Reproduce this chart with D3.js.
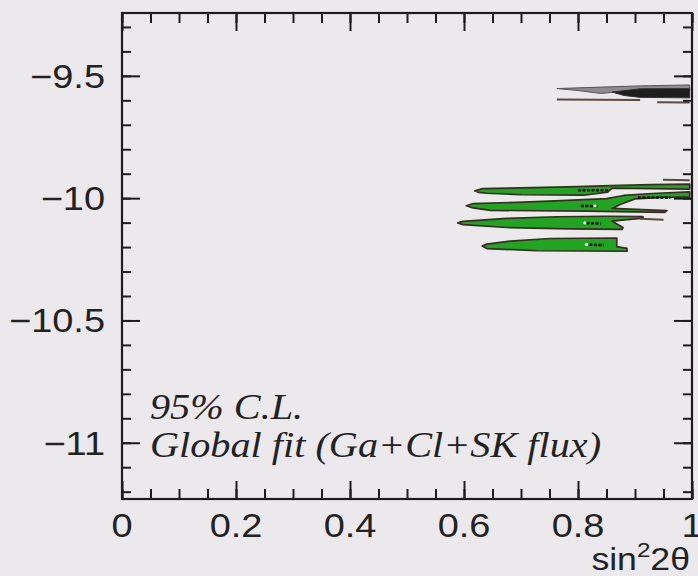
<!DOCTYPE html>
<html>
<head>
<meta charset="utf-8">
<script src="https://cdn.jsdelivr.net/npm/d3@7"></script>
<style>
  html, body { margin: 0; padding: 0; background: #ebe9ec; }
  svg { display: block; }
</style>
</head>
<body>
<svg id="chart" width="698" height="576"></svg>
<script>
// Axis ranges: x = sin^2 2θ, y = log10(Δm^2 / eV^2)
const xDomain = [0, 1];
const yDomain = [-11.23, -9.243];

const xMajorTicks = [0, 0.2, 0.4, 0.6, 0.8, 1];
const xTickLabels = ["0", "0.2", "0.4", "0.6", "0.8", "1"];
const yMajorTicks = [-9.5, -10, -10.5, -11];
const yTickLabels = ["\u22129.5", "\u221210", "\u221210.5", "\u221211"];

// Allowed islands at 95% C.L. (upper edge left→right, then lower edge right→left)
const islandA = [[0.619,-9.970],[0.633,-9.961],[0.72,-9.957],[0.80,-9.953],[0.856,-9.949],[0.93,-9.945],[0.996,-9.943],
                 [0.996,-9.963],[0.93,-9.961],[0.86,-9.959],[0.852,-9.975],[0.81,-9.988],[0.70,-9.986],[0.64,-9.980],[0.625,-9.976]];
const islandB = [[0.604,-10.031],[0.616,-10.022],[0.693,-10.017],[0.781,-10.009],[0.85,-10.002],[0.88,-9.989],[0.93,-9.981],[0.996,-9.974],
                 [0.996,-9.995],[0.94,-9.998],[0.90,-10.003],[0.875,-10.025],[0.86,-10.042],[0.956,-10.051],[0.952,-10.058],[0.816,-10.053],[0.646,-10.050],[0.616,-10.040]];
const islandC = [[0.589,-10.101],[0.598,-10.095],[0.675,-10.083],[0.763,-10.076],[0.85,-10.074],[0.914,-10.075],[0.914,-10.082],
                 [0.86,-10.094],[0.879,-10.120],[0.877,-10.128],[0.786,-10.126],[0.675,-10.120],[0.598,-10.108]];
const islandD = [[0.632,-10.196],[0.64,-10.188],[0.681,-10.176],[0.751,-10.165],[0.868,-10.163],[0.868,-10.198],[0.886,-10.205],
                 [0.886,-10.217],[0.728,-10.215],[0.640,-10.206]];

// Upper solution near Δm^2 ~ 10^-9.55 (grey band and dark core)
const greyBand = [[0.763,-9.552],[0.84,-9.546],[0.909,-9.541],[0.996,-9.537],[0.996,-9.556],[0.909,-9.556],[0.84,-9.572],[0.80,-9.560]];
const darkCore = [[0.86,-9.566],[0.909,-9.553],[0.996,-9.552],[0.996,-9.590],[0.909,-9.588],[0.88,-9.580]];

// Thin contour fragments and inner (best-fit region) dashes
const thinLines = [
  [[0.763,-9.597],[0.909,-9.599]],
  [[0.939,-9.608],[0.996,-9.609]],
  [[0.949,-9.925],[0.996,-9.927]],
  [[0.909,-10.084],[0.95,-10.088]]
];
const coreDashes = [
  [[0.80,-9.968],[0.855,-9.968]],
  [[0.905,-9.997],[0.962,-9.998]],
  [[0.805,-10.032],[0.835,-10.032]],
  [[0.815,-10.102],[0.84,-10.104]],
  [[0.82,-10.190],[0.845,-10.192]]
];
const bestFits = [[0.83,-10.031],[0.812,-10.101],[0.815,-10.189]];

const W = 698, H = 576;
const mLeft = 122, mRight = 692, mTop = 13, mBottom = 499;
const stretch = 1.15;   // horizontal stretch of the lettering

const svg = d3.select("#chart");
const x = d3.scaleLinear().domain(xDomain).range([mLeft, mRight]);
const y = d3.scaleLinear().domain(yDomain).range([mBottom, mTop]);

svg.append("defs").append("clipPath").attr("id", "plotclip")
  .append("rect").attr("x", mLeft).attr("y", mTop).attr("width", mRight - mLeft).attr("height", mBottom - mTop);

const plot = svg.append("g").attr("clip-path", "url(#plotclip)");
const poly = d3.line().x(d => x(d[0])).y(d => y(d[1])).curve(d3.curveLinearClosed);
const seg = d3.line().x(d => x(d[0])).y(d => y(d[1]));

plot.append("path").attr("d", poly(greyBand)).attr("fill", "#8d8b8d").attr("stroke", "#555").attr("stroke-width", 1);
plot.append("path").attr("d", poly(darkCore)).attr("fill", "#1e1e1e").attr("stroke", "#333").attr("stroke-width", 1);

[islandA, islandB, islandC, islandD].forEach(p => {
  plot.append("path").attr("d", poly(p))
    .attr("fill", "#20a520").attr("stroke", "#3b2a26").attr("stroke-width", 1.7)
    .attr("stroke-linejoin", "round");
});

thinLines.forEach(l => {
  plot.append("path").attr("d", seg(l)).attr("fill", "none")
    .attr("stroke", "#5a4a40").attr("stroke-width", 2);
});
coreDashes.forEach(l => {
  plot.append("path").attr("d", seg(l)).attr("fill", "none")
    .attr("stroke", "#111").attr("stroke-width", 2.5).attr("stroke-dasharray", "3,1.5");
});
plot.selectAll("circle.bf").data(bestFits).join("circle")
  .attr("cx", d => x(d[0])).attr("cy", d => y(d[1])).attr("r", 1.6).attr("fill", "#e8f5e0");

// Frame and ticks on all four sides (pointing inward)
const axisColor = "#1c1c1c";
const xMinor = d3.range(0, 1.0001, 0.05).map(v => +v.toFixed(2));
const yMinor = d3.range(-11.2, -9.2499, 0.1).map(v => +v.toFixed(1));

function drawAxis(gen, transform, values, size) {
  const g = svg.append("g").attr("transform", transform)
    .call(gen.tickValues(values).tickSize(size).tickSizeOuter(0).tickFormat(""));
  g.select(".domain").remove();
  g.selectAll(".tick line").attr("stroke", axisColor).attr("stroke-width", 2);
  return g;
}
drawAxis(d3.axisBottom(x), `translate(0,${mBottom})`, xMinor, -10);
drawAxis(d3.axisBottom(x), `translate(0,${mBottom})`, xMajorTicks, -18);
drawAxis(d3.axisTop(x), `translate(0,${mTop})`, xMinor, -10);
drawAxis(d3.axisTop(x), `translate(0,${mTop})`, xMajorTicks, -18);
drawAxis(d3.axisLeft(y), `translate(${mLeft},0)`, yMinor, -9);
drawAxis(d3.axisLeft(y), `translate(${mLeft},0)`, yMajorTicks, -18);
drawAxis(d3.axisRight(y), `translate(${mRight},0)`, yMinor, -9);
drawAxis(d3.axisRight(y), `translate(${mRight},0)`, yMajorTicks, -18);

svg.append("rect").attr("x", mLeft).attr("y", mTop).attr("width", mRight - mLeft).attr("height", mBottom - mTop)
  .attr("fill", "none").attr("stroke", axisColor).attr("stroke-width", 2.2);

// Tick labels
const labelFont = "'Liberation Sans', Arial, Helvetica, sans-serif";
svg.append("g").selectAll("text").data(xMajorTicks).join("text")
  .attr("transform", d => `translate(${x(d)},537) scale(${stretch},1)`)
  .attr("text-anchor", "middle").attr("font-family", labelFont).attr("font-size", 33)
  .attr("fill", "#222").text((d, i) => xTickLabels[i]);
svg.append("g").selectAll("text").data(yMajorTicks).join("text")
  .attr("transform", d => `translate(105,${y(d) + 12}) scale(${stretch},1)`)
  .attr("text-anchor", "end").attr("font-family", labelFont).attr("font-size", 33)
  .attr("fill", "#222").text((d, i) => yTickLabels[i]);

// Axis title
const xt = svg.append("text").attr("transform", `translate(690,570) scale(${stretch},1)`).attr("text-anchor", "end")
  .attr("font-family", labelFont).attr("font-size", 31).attr("fill", "#222");
xt.append("tspan").text("sin");
xt.append("tspan").attr("font-size", 21).attr("dy", -13).text("2");
xt.append("tspan").attr("dy", 13).text("2θ");

// Annotation
const serif = "'Liberation Serif', 'Times New Roman', Times, serif";
svg.append("text").attr("transform", `translate(150,419) scale(${stretch},1)`)
  .attr("font-family", serif).attr("font-style", "italic").attr("font-size", 35).attr("fill", "#222")
  .text("95% C.L.");
svg.append("text").attr("transform", `translate(150,457) scale(${stretch},1)`)
  .attr("font-family", serif).attr("font-style", "italic").attr("font-size", 35).attr("fill", "#222")
  .text("Global fit (Ga+Cl+SK flux)");
</script>
</body>
</html>
